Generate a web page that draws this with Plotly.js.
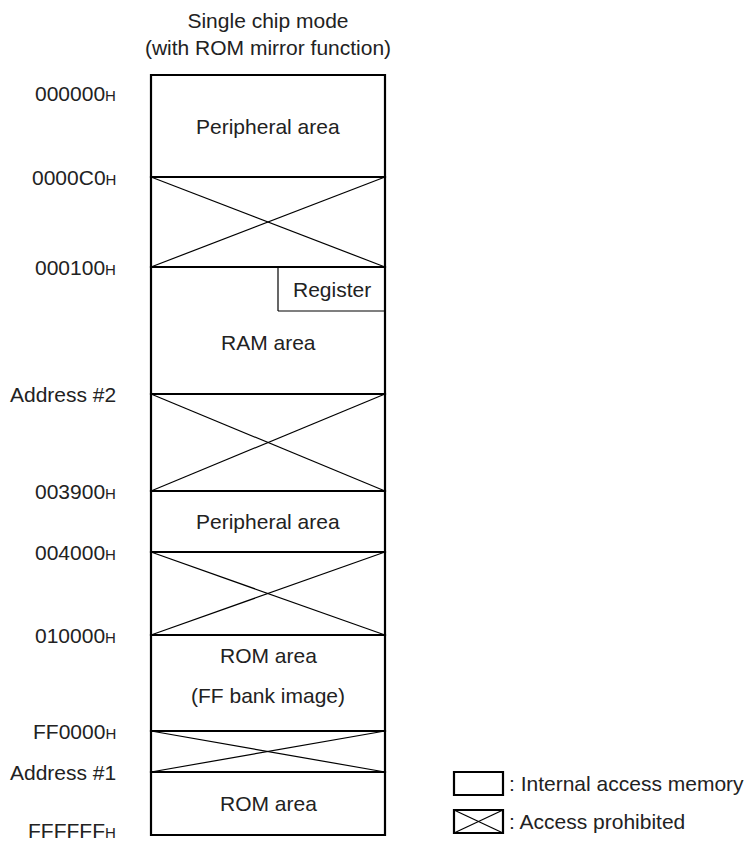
<!DOCTYPE html>
<html>
<head>
<meta charset="utf-8">
<script src="https://cdn.plot.ly/plotly-3.0.1.min.js"></script>
<style>html,body{margin:0;padding:0;background:#fff;}#chart{width:754px;height:846px;}</style>
</head>
<body>
<div id="chart"></div>
<script>
// ---- data ----
const titleLines = ['Single chip mode', '(with ROM mirror function)'];
const addressTexts = ['000000', '0000C0', '000100', 'Address #2', '003900', '004000', '010000', 'FF0000', 'Address #1', 'FFFFFF'];
const addressIsHex = [true, true, true, false, true, true, true, true, false, true];
const boundaries = [75, 177, 267, 394, 491, 552, 635, 731, 772, 835];
const regionNames = [['Peripheral area'], [], ['RAM area'], [], ['Peripheral area'], [], ['ROM area', '(FF bank image)'], [], ['ROM area']];
const regionTypes = ['internal', 'prohibited', 'internal', 'prohibited', 'internal', 'prohibited', 'internal', 'prohibited', 'internal'];
const registerLabel = 'Register';
const legendLabels = [': Internal access memory', ': Access prohibited'];
const legendTypes = ['internal', 'prohibited'];

// ---- layout constants ----
const W = 754, H = 846;
const BOX_L = 151, BOX_R = 385, BOX_C = (BOX_L + BOX_R) / 2;
const LABEL_X = 118;
const REG_L = 278, REG_H = 44;
const FONT = 'Liberation Sans, Arial, Helvetica, sans-serif';
const FS = 21;
const TXT = '#222222';

const shapes = [];
const annotations = [];

function line(x0, y0, x1, y1, w) {
  shapes.push({type: 'line', xref: 'x', yref: 'y', x0, y0, x1, y1, line: {color: '#000', width: w}});
}
function rect(x0, y0, x1, y1, w) {
  shapes.push({type: 'rect', xref: 'x', yref: 'y', x0, y0, x1, y1, line: {color: '#000', width: w}, fillcolor: 'rgba(0,0,0,0)'});
}
function text(t, x, y, xa, extra) {
  annotations.push(Object.assign({text: t, x, y, xref: 'x', yref: 'y', xanchor: xa, yanchor: 'middle', showarrow: false,
    font: {family: FONT, size: FS, color: TXT}}, extra || {}));
}

// crosses first (thin), then borders
regionTypes.forEach((t, i) => {
  const y0 = boundaries[i], y1 = boundaries[i + 1];
  if (t === 'prohibited') {
    line(BOX_L, y0, BOX_R, y1, 1.2);
    line(BOX_L, y1, BOX_R, y0, 1.2);
  }
});
// register sub-box
line(REG_L, boundaries[2], REG_L, boundaries[2] + REG_H, 1.2);
line(REG_L, boundaries[2] + REG_H, BOX_R, boundaries[2] + REG_H, 1.2);
text(registerLabel, (REG_L + BOX_R) / 2, boundaries[2] + REG_H / 2, 'center');

// region borders
regionTypes.forEach((t, i) => {
  rect(BOX_L, boundaries[i], BOX_R, boundaries[i + 1], 2.2);
});

// region names
regionNames.forEach((lines, i) => {
  if (!lines.length) return;
  let y0 = boundaries[i], y1 = boundaries[i + 1];
  if (i === 2) y0 = boundaries[2] + REG_H - 20;
  const mid = (y0 + y1) / 2;
  const gap = 40;
  lines.forEach((ln, k) => {
    const y = mid + (k - (lines.length - 1) / 2) * gap - (lines.length > 1 ? 8 : 0);
    text(ln, BOX_C, y, 'center');
  });
});

// address labels
addressTexts.forEach((a, i) => {
  const t = addressIsHex[i] ? a + '<span style="font-size:15px">H</span>' : a;
  let ys = 0;
  if (i === 0) ys = -18;
  if (i === addressTexts.length - 1) ys = 5;
  text(t, LABEL_X, boundaries[i], 'right', {yshift: ys});
});

// legend
const LEG_L = 454, LEG_R = 503;
const legY = [772, 810], LEG_H = 23;
legendTypes.forEach((t, i) => {
  const y0 = legY[i], y1 = legY[i] + LEG_H;
  if (t === 'prohibited') {
    line(LEG_L, y0, LEG_R, y1, 1.2);
    line(LEG_L, y1, LEG_R, y0, 1.2);
  }
  rect(LEG_L, y0, LEG_R, y1, 2.2);
  text(legendLabels[i], LEG_R + 4, (y0 + y1) / 2, 'left');
});

const layout = {
  width: W, height: H,
  margin: {l: 0, r: 0, t: 0, b: 0, pad: 0},
  paper_bgcolor: '#fff', plot_bgcolor: '#fff',
  showlegend: false,
  title: {text: titleLines.join('<br>'), x: BOX_C / W, xanchor: 'center', xref: 'paper',
          y: 1 - 27.5 / H, yanchor: 'middle', yref: 'container',
          font: {family: FONT, size: FS, color: TXT}},
  xaxis: {range: [0, W], visible: false, fixedrange: true},
  yaxis: {range: [H, 0], visible: false, fixedrange: true},
  shapes, annotations
};

Plotly.newPlot('chart', [{x: [], y: [], type: 'scatter', mode: 'lines', hoverinfo: 'skip'}], layout, {staticPlot: true, displayModeBar: false});
</script>
</body>
</html>
